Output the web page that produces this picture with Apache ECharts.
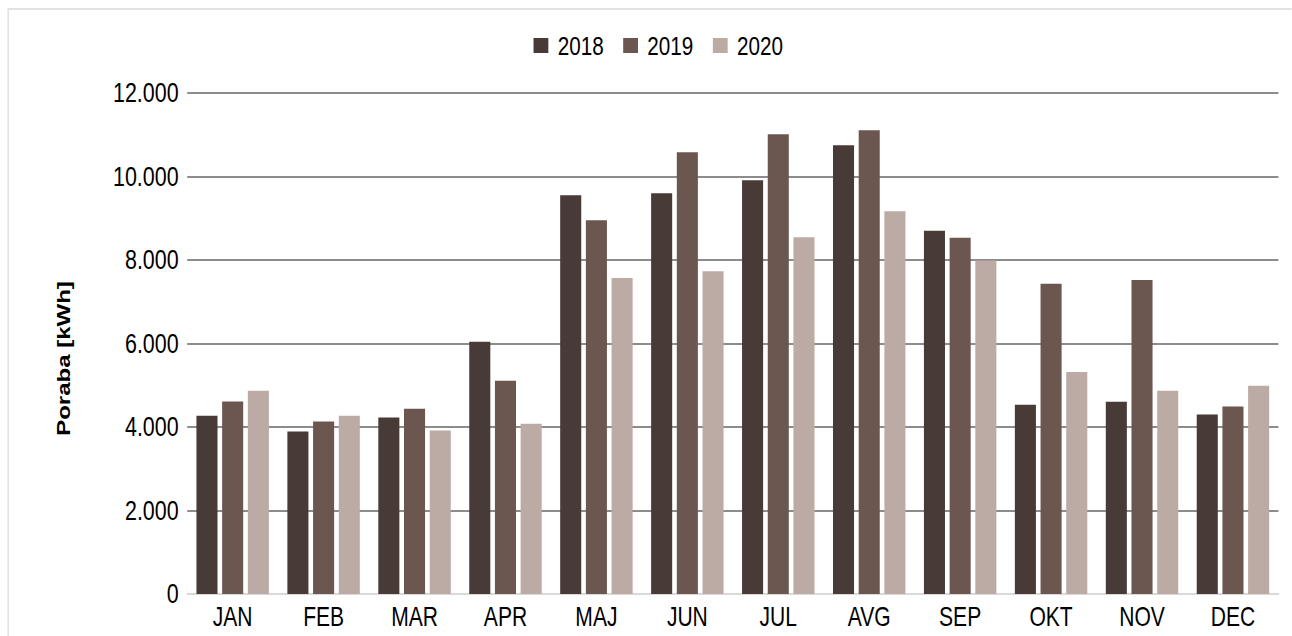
<!DOCTYPE html>
<html>
<head>
<meta charset="utf-8">
<script src="https://cdn.jsdelivr.net/npm/echarts@6/dist/echarts.min.js"></script>
<style>
  html, body { margin: 0; padding: 0; background: #ffffff; overflow: hidden; }
  /* the chart is laid out wide and condensed horizontally to fit 1292px */
  #chart { width: 1656px; height: 636px; transform: scaleX(0.78); transform-origin: 0 0; }
</style>
</head>
<body>
<div id="chart"></div>
<script>
// Monthly consumption, kWh
const months = ['JAN', 'FEB', 'MAR', 'APR', 'MAJ', 'JUN', 'JUL', 'AVG', 'SEP', 'OKT', 'NOV', 'DEC'];
const years = ['2018', '2019', '2020'];
const values2018 = [4270, 3890, 4225, 6040, 9550, 9600, 9910, 10750, 8700, 4530, 4605, 4300];
const values2019 = [4610, 4130, 4440, 5110, 8950, 10580, 11010, 11110, 8530, 7430, 7520, 4490];
const values2020 = [4870, 4270, 3915, 4080, 7570, 7730, 8545, 9170, 7990, 5320, 4870, 4990];
const yTicks = { min: 0, max: 12000, step: 2000 };
const yTitle = 'Poraba [kWh]';

const colors = ['#483a36', '#6b5750', '#bcaaa4'];
const font = "'Liberation Sans', Arial, sans-serif";

// thousands separated with a dot
function fmt(v) {
  return String(v).replace(/\B(?=(\d{3})+(?!\d))/g, '.');
}

const seriesValues = [values2018, values2019, values2020];

const chart = echarts.init(document.getElementById('chart'), null, { renderer: 'svg' });
chart.setOption({
  animation: false,
  color: colors,
  graphic: [{
    type: 'rect',
    silent: true,
    shape: { x: 10.5, y: 9, width: 1700, height: 660 },
    style: { fill: 'none', stroke: '#e2e2e4', lineWidth: 2 }
  }],
  legend: {
    data: years,
    top: 27,
    left: 679,
    itemWidth: 19,
    itemHeight: 15,
    itemGap: 25,
    icon: 'rect',
    textStyle: { fontFamily: font, fontSize: 26.5, color: '#000', padding: [0, 0, 0, 7] }
  },
  grid: { left: 240, right: 17, top: 93, bottom: 42, containLabel: false },
  xAxis: {
    type: 'category',
    data: months,
    axisLine: { lineStyle: { color: '#d9d9d9', width: 2 } },
    axisTick: { show: false },
    axisLabel: { fontFamily: font, fontSize: 27, color: '#000', margin: 9 }
  },
  yAxis: {
    type: 'value',
    min: yTicks.min,
    max: yTicks.max,
    interval: yTicks.step,
    name: yTitle,
    nameLocation: 'middle',
    nameGap: 146,
    nameRotate: 90,
    nameTextStyle: { fontFamily: font, fontSize: 24, fontWeight: 'bold', color: '#000', padding: [0, 30, 0, 0] },
    axisLine: { show: false },
    axisTick: { show: false },
    axisLabel: { fontFamily: font, fontSize: 27.5, color: '#000', margin: 11, formatter: fmt },
    splitLine: { lineStyle: { color: '#8c8c8c', width: 2 } }
  },
  series: years.map((y, i) => ({
    name: y,
    type: 'bar',
    data: seriesValues[i],
    barWidth: 27,
    barGap: '22%',
    itemStyle: { color: colors[i] }
  }))
});
</script>
</body>
</html>
